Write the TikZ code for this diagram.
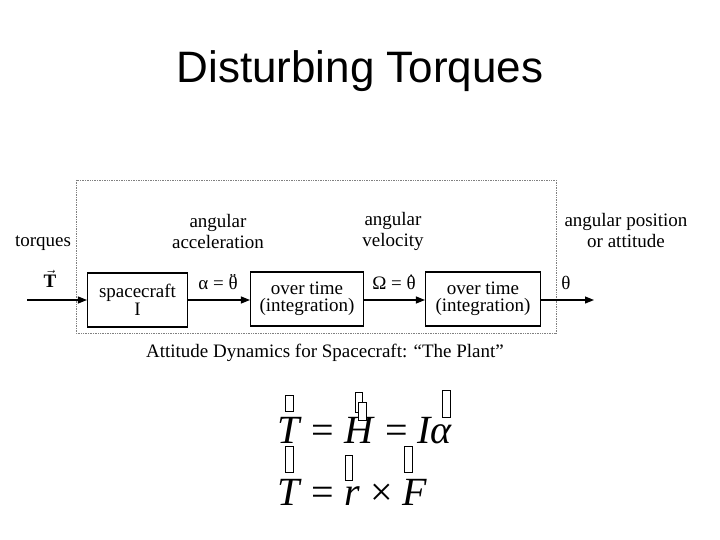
\documentclass[tikz,border=0pt]{standalone}
\usepackage{fontspec}
\setmainfont{Liberation Serif}
\newfontfamily\titlefont{Liberation Sans}
\usetikzlibrary{arrows.meta}
\newcommand\myddth{\ooalign{θ\cr\hidewidth\raisebox{0.3ex}{¨}\hidewidth\cr}}
\newcommand\mydth{\ooalign{θ\cr\hidewidth\raisebox{0.3ex}{˙}\hidewidth\cr}}
\tikzset{
  blockbox/.style={draw=black, line width=1.1pt, minimum width=#1, minimum height=54pt, inner sep=0pt, align=center, font=\fontsize{19}{17.5}\selectfont},
  flow/.style={-{Triangle[length=9pt,width=7pt]}, line width=1.1pt},
  lbl/.style={align=center, font=\fontsize{19}{21}\selectfont, inner sep=0pt},
  eq/.style={anchor=base west, inner sep=0pt, font=\fontsize{40}{40}\selectfont},
  glyphbox/.style={draw=black, line width=0.9pt, fill=white}
}
\begin{document}
\begin{tikzpicture}[x=1pt,y=-1pt]
\useasboundingbox (0,0) rectangle (720,540);
% title
\node[anchor=base, inner sep=0pt, font=\titlefont\fontsize{44}{44}\selectfont] (title) at (360,83) {Disturbing Torques};
% dotted frame
\draw[densely dotted, gray, line width=0.7pt] (76,180) rectangle (556,333);
% blocks
\node[blockbox=100pt] (sc) at (137.5,300) {spacecraft\\I};
\node[blockbox=113pt] (int1) at (307,299) {over time\\(integration)};
\node[blockbox=115pt] (int2) at (483,299) {over time\\(integration)};
\coordinate (in) at (27,300);
\coordinate (out) at (594,300);
\draw[flow] (in) -- (sc.west |- in);
\draw[flow] (sc.east |- 0,300) -- (int1.west |- 0,300);
\draw[flow] (int1.east |- 0,300) -- (int2.west |- 0,300);
\draw[flow] (int2.east |- 0,300) -- (out);
% labels
\node[lbl] (torq) at (43,243) {torques};
\node[lbl] (Tvec) at (50,279) {$\vec{\mathbf{T}}$};
\node[lbl] (acc) at (218,232) {angular\\acceleration};
\node[lbl] (vel) at (393,231) {angular\\velocity};
\node[lbl] (pos) at (626,231) {angular position\\or attitude};
\node[lbl] (alpha) at (218,283) {α = \myddth};
\node[lbl] (omega) at (394,283) {Ω = \mydth};
\node[lbl] (theta) at (566,283) {θ};
% caption
\node[lbl, anchor=base] (cap) at (325,357) {Attitude Dynamics for Spacecraft: “The Plant”};
% equations
\node[eq] (eq1) at (277,443) {\textit{T} = \textit{H} = \textit{Iα}};
\node[eq] (eq2) at (277,505) {\textit{T} = \textit{r} × \textit{F}};
% missing-glyph boxes
\draw[glyphbox] (285,395) rectangle (293,411);
\draw[glyphbox] (355,392) rectangle (362,412);
\draw[glyphbox] (358,402) rectangle (366,420);
\draw[glyphbox] (442,390) rectangle (450,417);
\draw[glyphbox] (285,446) rectangle (293,472);
\draw[glyphbox] (345,455) rectangle (352,480);
\draw[glyphbox] (404,446) rectangle (412,472);
\end{tikzpicture}
\end{document}
